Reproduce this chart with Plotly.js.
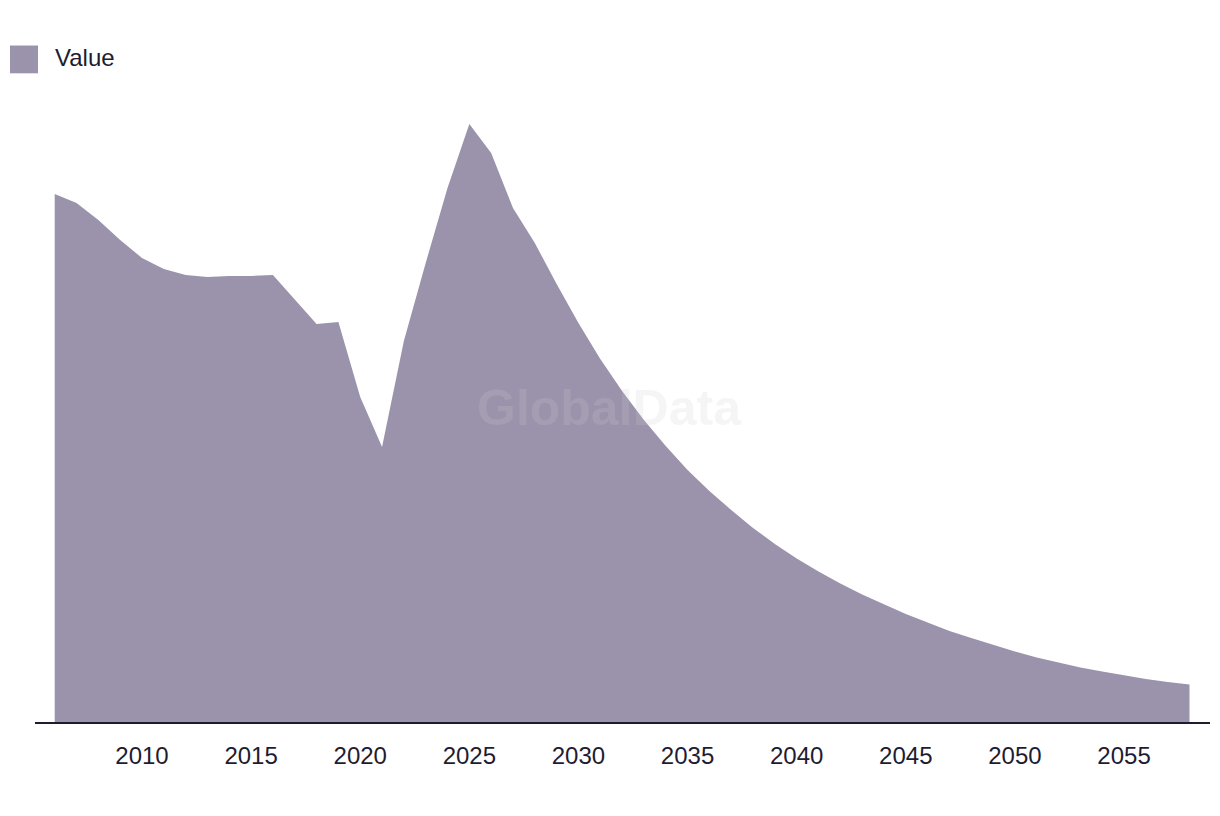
<!DOCTYPE html>
<html>
<head>
<meta charset="utf-8">
<script src="https://cdn.plot.ly/plotly-3.0.1.min.js"></script>
<style>html,body{margin:0;padding:0;background:#fff;}#chart{width:1220px;height:816px;}</style>
</head>
<body>
<div id="chart"></div>
<script>
const years = [2006,2007,2008,2009,2010,2011,2012,2013,2014,2015,2016,2017,2018,2019,2020,2021,2022,2023,2024,2025,2026,2027,2028,2029,2030,2031,2032,2033,2034,2035,2036,2037,2038,2039,2040,2041,2042,2043,2044,2045,2046,2047,2048,2049,2050,2051,2052,2053,2054,2055,2056,2057,2058];
const values = [528,519,502,482,464,453,447,445,446,446,447,423,398,400,325,275,381,459,534,598,569,514,479,438,399,363,331,302,276,252,231,212,194,178,163.5,150.5,138.5,127.5,117.5,108,99.5,91,84,77,70.5,64.5,59.5,54.5,50.5,46.5,43,40,37.5];
const tickYears = [2010,2015,2020,2025,2030,2035,2040,2045,2050,2055];
const seriesName = 'Value';
const watermark = 'GlobalData';

const areaColor = '#9b92ab';
const textColor = '#1e1c31';

const trace = {
  x: years, y: values, type: 'scatter', mode: 'lines',
  fill: 'tozeroy', fillcolor: areaColor,
  line: {width: 0, color: areaColor, shape: 'linear'},
  name: seriesName, showlegend: false, hoverinfo: 'skip'
};

const layout = {
  width: 1220, height: 816,
  margin: {l: 35, r: 10, t: 100, b: 94, pad: 0},
  paper_bgcolor: '#ffffff', plot_bgcolor: '#ffffff',
  showlegend: false,
  xaxis: {
    range: [2005.097, 2058.94], tickmode: 'array', tickvals: tickYears,
    ticktext: tickYears.map(String), showgrid: false, zeroline: false,
    showline: true, linecolor: textColor, linewidth: 2, ticks: '',
    ticklabelstandoff: 11,
    tickfont: {family: 'Liberation Sans, Arial, sans-serif', size: 24, color: textColor}
  },
  yaxis: {range: [0, 622], visible: false, showgrid: false, zeroline: false},
  shapes: [{
    type: 'rect', xref: 'paper', yref: 'paper',
    x0: -0.02128, x1: 0.00255, y0: 1.0429, y1: 1.0876,
    fillcolor: areaColor, line: {width: 0}
  }],
  annotations: [
    {text: seriesName, xref: 'paper', yref: 'paper', x: 0.0153, y: 1.069,
     xanchor: 'left', yanchor: 'middle', showarrow: false,
     font: {family: 'Liberation Sans, Arial, sans-serif', size: 24, color: textColor}},
    {text: '<b>' + watermark + '</b>', xref: 'paper', yref: 'paper', x: 0.489, y: 0.505,
     xanchor: 'center', yanchor: 'middle', showarrow: false,
     font: {family: 'Liberation Sans, Arial, sans-serif', size: 50, color: 'rgba(204,204,210,0.2)'}}
  ]
};

Plotly.newPlot('chart', [trace], layout, {staticPlot: true, displayModeBar: false});
</script>
</body>
</html>
